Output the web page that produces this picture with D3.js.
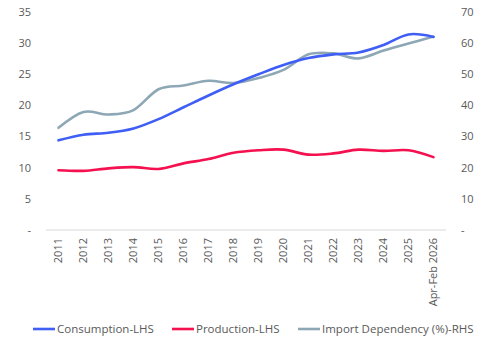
<!DOCTYPE html>
<html>
<head>
  <meta charset="utf-8">
  <title>Consumption, production and import dependency</title>
  <script src="https://cdn.jsdelivr.net/npm/d3@7"></script>
  <style type="text/css">
  html, body {
    margin: 0;
    background-color: #fff;
  }
  text {
    font-family: "Open Sans", sans-serif;
    fill: #595959;
  }
  .tick-label {
    font-size: 11px;
  }
  .legend-label {
    font-size: 11.5px;
  }
  .series {
    fill: none;
    stroke-width: 2.6px;
    stroke-linecap: round;
  }
  </style>
</head>
<body>
  <div id="chart"></div>
<script>
var width = 492,
    height = 341;

var years = ["2011", "2012", "2013", "2014", "2015", "2016", "2017", "2018",
             "2019", "2020", "2021", "2022", "2023", "2024", "2025", "Apr-Feb 2026"];

// left-hand scale
var consumption = [14.4, 15.3, 15.6, 16.3, 17.8, 19.7, 21.6, 23.4,
                   25.0, 26.5, 27.6, 28.2, 28.5, 29.7, 31.4, 31.0];
var production  = [9.6, 9.5, 9.9, 10.1, 9.8, 10.7, 11.4, 12.4,
                   12.8, 12.9, 12.1, 12.3, 12.9, 12.7, 12.8, 11.7];
// right-hand scale, percent
var importDep   = [32.8, 37.9, 37.1, 38.5, 45.2, 46.4, 47.9, 47.2,
                   48.8, 51.4, 56.4, 56.7, 55.1, 57.6, 59.9, 62.1];

var leftTicks  = [0, 5, 10, 15, 20, 25, 30, 35];
var rightTicks = [0, 10, 20, 30, 40, 50, 60, 70];

var seriesNames = ["Consumption-LHS", "Production-LHS", "Import Dependency (%)-RHS"];
var seriesColors = ["#3f5ef5", "#f5104f", "#8ea7b5"];

var svg = d3.select("#chart").append("svg")
            .attr("width", width)
            .attr("height", height);

var plot = {left: 46, right: 446, top: 12, bottom: 230};

var x = d3.scaleBand()
          .domain(years)
          .range([plot.left, plot.right]);

var yL = d3.scaleLinear()
           .domain([0, 35])
           .range([plot.bottom, plot.top]);

var yR = d3.scaleLinear()
           .domain([0, 70])
           .range([plot.bottom, plot.top]);

var fmt = function(v) { return v === 0 ? "-" : v; };

// left axis labels
svg.append("g").selectAll("text")
   .data(leftTicks)
   .enter().append("text")
   .attr("class", "tick-label")
   .attr("x", 31)
   .attr("y", function(d) { return yL(d); })
   .attr("dy", "0.35em")
   .attr("text-anchor", "end")
   .text(fmt);

// right axis labels
svg.append("g").selectAll("text")
   .data(rightTicks)
   .enter().append("text")
   .attr("class", "tick-label")
   .attr("x", 461)
   .attr("y", function(d) { return yR(d); })
   .attr("dy", "0.35em")
   .attr("text-anchor", "start")
   .text(fmt);

// baseline
svg.append("line")
   .attr("x1", plot.left).attr("x2", plot.right)
   .attr("y1", plot.bottom).attr("y2", plot.bottom)
   .attr("stroke", "#d9d9d9")
   .attr("stroke-width", 1);

// rotated category labels
svg.append("g").selectAll("text")
   .data(years)
   .enter().append("text")
   .attr("class", "tick-label")
   .attr("text-anchor", "end")
   .attr("transform", function(d) {
     return "translate(" + (x(d) + x.bandwidth() / 2) + "," + (plot.bottom + 8) + ") rotate(-90)";
   })
   .attr("dy", "0.35em")
   .text(function(d) { return d; });

var lineFor = function(scale) {
  return d3.line()
           .x(function(d, i) { return x(years[i]) + x.bandwidth() / 2; })
           .y(function(d) { return scale(d); })
           .curve(d3.curveCatmullRom.alpha(0));
};

var series = [
  {values: consumption, scale: yL},
  {values: production, scale: yL},
  {values: importDep, scale: yR}
];

// draw import dependency first so consumption sits on top
[2, 1, 0].forEach(function(k) {
  svg.append("path")
     .datum(series[k].values)
     .attr("class", "series")
     .attr("stroke", seriesColors[k])
     .attr("d", lineFor(series[k].scale));
});

// legend
var legendX = [33, 172, 298];
var legend = svg.append("g").selectAll("g")
                .data(seriesNames)
                .enter().append("g")
                .attr("transform", function(d, i) {
                  return "translate(" + legendX[i] + ",329)";
                });
legend.append("line")
      .attr("x1", 0).attr("x2", 22)
      .attr("stroke", function(d, i) { return seriesColors[i]; })
      .attr("stroke-width", 2.6);
legend.append("text")
      .attr("class", "legend-label")
      .attr("x", 24)
      .attr("dy", "0.35em")
      .text(function(d) { return d; });
</script>
</body>
</html>
